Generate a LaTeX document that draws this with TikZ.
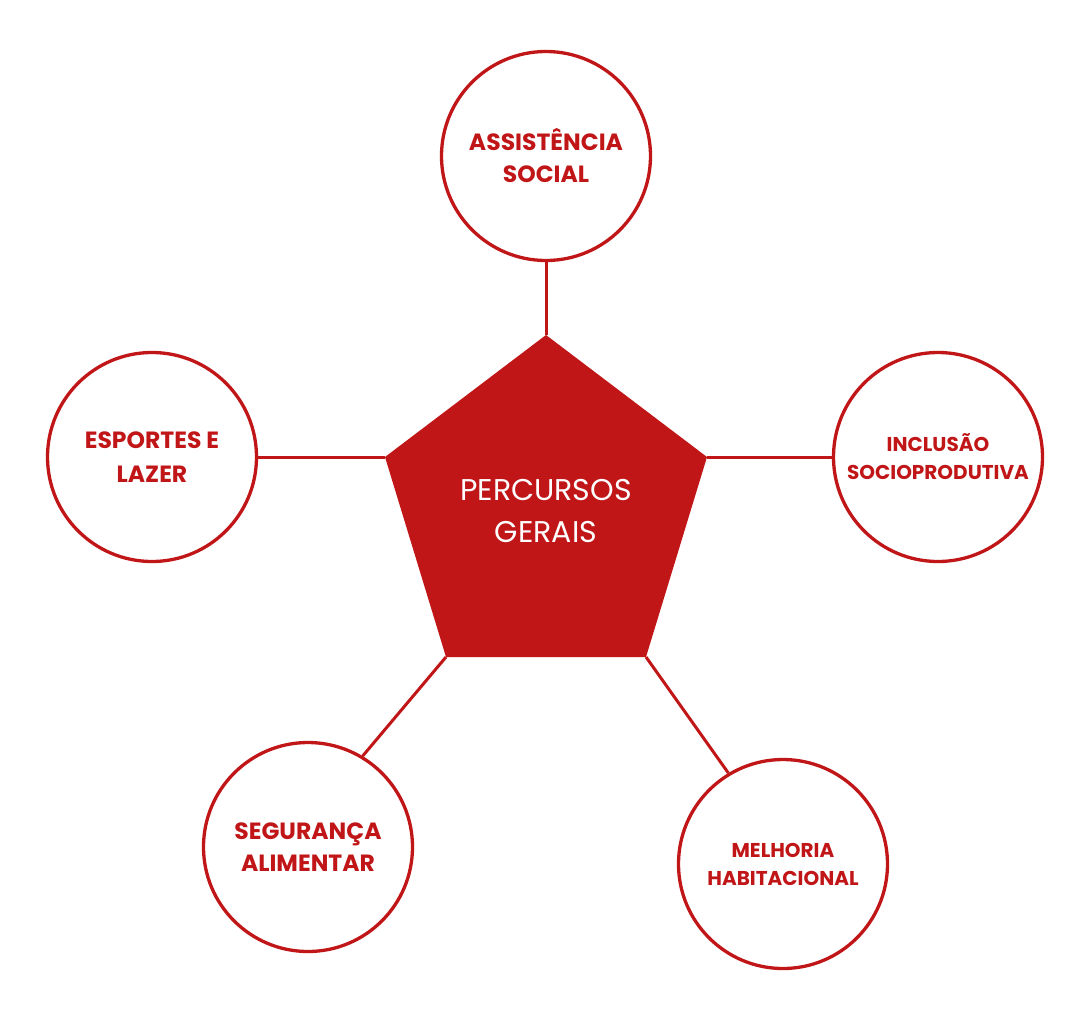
\documentclass[tikz,border=0pt]{standalone}
\usepackage{fontspec}
\setmainfont{Poppins}
\definecolor{rd}{RGB}{193,22,24}
\begin{document}
\begin{tikzpicture}[x=1pt,y=-1pt,
  topic/.style={circle,draw=rd,line width=3.3pt,minimum size=209pt,inner sep=0pt,align=center,text=rd},
  bigtxt/.style={font=\bfseries\fontsize{23.5}{32}\selectfont},
  smalltxt/.style={font=\bfseries\fontsize{20}{28}\selectfont},
  link/.style={draw=rd,line width=3pt}]
\useasboundingbox (0,0) rectangle (1090,1010);
% pentagon vertices
\coordinate (p1) at (546,335);
\coordinate (p2) at (385,457);
\coordinate (p3) at (707,457);
\coordinate (p4) at (446,657);
\coordinate (p5) at (646,657);
% topics
\node[topic,bigtxt] (as) at (546,156) {ASSISTÊNCIA\\SOCIAL};
\node[topic,font=\bfseries\fontsize{23.5}{34}\selectfont] (esp) at (152,457) {ESPORTES E\\LAZER};
\node[topic,smalltxt] (inc) at (938,457) {INCLUSÃO\\SOCIOPRODUTIVA};
\node[topic,bigtxt] (seg) at (308,847) {SEGURANÇA\\ALIMENTAR};
\node[topic,smalltxt] (mel) at (783,864) {MELHORIA\\HABITACIONAL};
% connectors
\draw[link] (p1) -- (as);
\draw[link] (p2) -- (esp);
\draw[link] (p3) -- (inc);
\draw[link] (p4) -- (seg.59);
\draw[link] (p5) -- (mel.121);
% pentagon
\fill[rd] (p1) -- (p3) -- (p5) -- (p4) -- (p2) -- cycle;
\node[text=white,align=center,font=\fontsize{30}{42}\selectfont] (core) at (546,511) {PERCURSOS\\GERAIS};
\end{tikzpicture}
\end{document}
